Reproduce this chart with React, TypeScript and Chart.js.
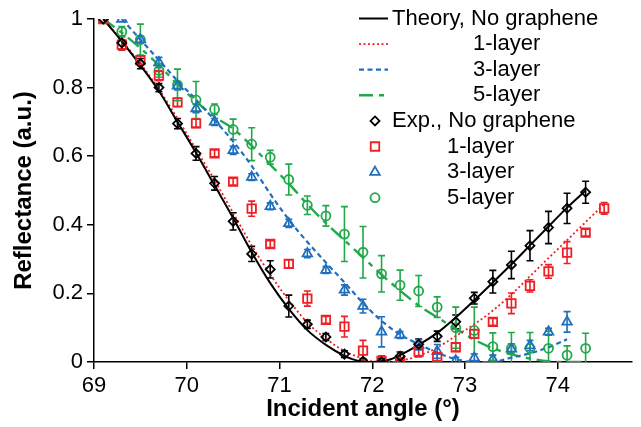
import React, { useEffect, useRef } from 'react';
import { Chart, registerables } from 'chart.js';
Chart.register(...registerables);

const FONT = "'Liberation Sans', Arial, sans-serif";

const xTicks = [69, 70, 71, 72, 73, 74];

// Theory curves
const thNoX = [69.1, 69.3, 69.5, 69.7, 69.9, 70.1, 70.3, 70.5, 70.7, 70.9, 71.1, 71.3, 71.5, 71.7, 71.8, 71.9, 72.0, 72.1, 72.2, 72.3, 72.5, 72.7, 72.9, 73.1, 73.3, 73.5, 73.7, 73.9, 74.1, 74.3];
const thNoY = [1.0, 0.935, 0.865, 0.79, 0.70, 0.61, 0.515, 0.42, 0.32, 0.23, 0.155, 0.093, 0.05, 0.018, 0.007, 0.001, 0.0, 0.002, 0.008, 0.02, 0.05, 0.085, 0.13, 0.18, 0.232, 0.285, 0.34, 0.395, 0.45, 0.5];

const th1X = [69.1, 69.3, 69.5, 69.7, 69.9, 70.1, 70.3, 70.5, 70.7, 70.9, 71.1, 71.3, 71.5, 71.7, 71.9, 72.0, 72.1, 72.2, 72.3, 72.5, 72.7, 72.9, 73.1, 73.3, 73.5, 73.7, 73.9, 74.1, 74.3, 74.5];
const th1Y = [1.0, 0.937, 0.87, 0.795, 0.71, 0.62, 0.53, 0.435, 0.34, 0.255, 0.18, 0.115, 0.068, 0.032, 0.01, 0.002, 0.0, 0.0, 0.003, 0.018, 0.042, 0.076, 0.11, 0.15, 0.197, 0.25, 0.303, 0.355, 0.408, 0.46];

const th3X = [69.3, 69.5, 69.7, 69.9, 70.1, 70.3, 70.5, 70.7, 70.9, 71.1, 71.3, 71.5, 71.7, 71.9, 72.1, 72.3, 72.5, 72.7, 72.9, 73.1, 73.3, 73.5, 73.7, 73.9, 74.1];
const th3Y = [1.0, 0.94, 0.88, 0.82, 0.765, 0.705, 0.643, 0.572, 0.49, 0.415, 0.35, 0.29, 0.232, 0.172, 0.12, 0.08, 0.052, 0.027, 0.008, 0.0, 0.0, 0.013, 0.025, 0.043, 0.066];

const th5X = [69.1, 69.3, 69.5, 69.7, 69.9, 70.1, 70.3, 70.5, 70.7, 70.9, 71.1, 71.3, 71.5, 71.7, 71.9, 72.1, 72.3, 72.5, 72.7, 72.9, 73.1, 73.3, 73.5, 73.7, 73.9, 74.1, 74.3];
const th5Y = [1.0, 0.96, 0.915, 0.865, 0.81, 0.76, 0.715, 0.68, 0.63, 0.575, 0.52, 0.46, 0.405, 0.355, 0.305, 0.255, 0.208, 0.165, 0.13, 0.097, 0.065, 0.04, 0.022, 0.01, 0.002, 0.0, 0.0];

// Experimental data
const exNoX = [69.1, 69.3, 69.5, 69.7, 69.9, 70.1, 70.3, 70.5, 70.7, 70.9, 71.1, 71.3, 71.5, 71.7, 71.9, 72.1, 72.3, 72.5, 72.7, 72.9, 73.1, 73.3, 73.5, 73.7, 73.9, 74.1, 74.3];
const exNoY = [1.0, 0.93, 0.87, 0.80, 0.695, 0.608, 0.521, 0.41, 0.315, 0.27, 0.163, 0.11, 0.073, 0.023, 0.002, 0.0, 0.017, 0.052, 0.075, 0.117, 0.186, 0.234, 0.283, 0.339, 0.392, 0.448, 0.495];
const exNoE = [0.0, 0.02, 0.015, 0.012, 0.015, 0.02, 0.02, 0.025, 0.022, 0.025, 0.032, 0.012, 0.01, 0.01, 0.008, 0.01, 0.012, 0.015, 0.015, 0.02, 0.017, 0.033, 0.04, 0.044, 0.047, 0.044, 0.032];

const ex1X = [69.1, 69.3, 69.5, 69.7, 69.9, 70.1, 70.3, 70.5, 70.7, 70.9, 71.1, 71.3, 71.5, 71.7, 71.9, 72.1, 72.3, 72.5, 72.7, 72.9, 73.1, 73.3, 73.5, 73.7, 73.9, 74.1, 74.3, 74.5];
const ex1Y = [1.0, 0.925, 0.88, 0.835, 0.757, 0.696, 0.608, 0.526, 0.447, 0.344, 0.286, 0.185, 0.123, 0.103, 0.033, 0.003, 0.0, 0.03, 0.014, 0.043, 0.082, 0.117, 0.171, 0.222, 0.264, 0.319, 0.377, 0.448];
const ex1E = [0.0, 0.015, 0.012, 0.015, 0.012, 0.012, 0.01, 0.01, 0.022, 0.01, 0.012, 0.022, 0.01, 0.03, 0.03, 0.015, 0.008, 0.015, 0.01, 0.012, 0.012, 0.01, 0.03, 0.018, 0.02, 0.032, 0.01, 0.017];

const ex3X = [69.3, 69.5, 69.7, 69.9, 70.1, 70.3, 70.5, 70.7, 70.9, 71.1, 71.3, 71.5, 71.7, 71.9, 72.1, 72.3, 72.5, 72.7, 72.9, 73.1, 73.3, 73.5, 73.7, 73.9, 74.1];
const ex3Y = [1.0, 0.94, 0.873, 0.805, 0.739, 0.70, 0.617, 0.539, 0.454, 0.404, 0.316, 0.268, 0.21, 0.163, 0.088, 0.079, 0.05, 0.031, 0.004, 0.012, 0.008, 0.038, 0.048, 0.088, 0.117];
const ex3E = [0.0, 0.01, 0.015, 0.012, 0.012, 0.01, 0.012, 0.01, 0.01, 0.012, 0.012, 0.01, 0.015, 0.02, 0.044, 0.01, 0.015, 0.02, 0.01, 0.012, 0.012, 0.015, 0.015, 0.01, 0.03];

const ex5X = [69.1, 69.3, 69.5, 69.7, 69.9, 70.1, 70.3, 70.5, 70.7, 70.9, 71.1, 71.3, 71.5, 71.7, 71.9, 72.1, 72.3, 72.5, 72.7, 72.9, 73.1, 73.3, 73.5, 73.7, 73.9, 74.1, 74.3];
const ex5Y = [1.0, 0.963, 0.94, 0.85, 0.808, 0.764, 0.737, 0.678, 0.635, 0.597, 0.532, 0.457, 0.426, 0.373, 0.32, 0.257, 0.224, 0.207, 0.16, 0.10, 0.092, 0.045, 0.04, 0.04, 0.04, 0.02, 0.04];
const ex5E = [0.0, 0.015, 0.045, 0.02, 0.046, 0.054, 0.015, 0.03, 0.048, 0.02, 0.045, 0.027, 0.03, 0.08, 0.075, 0.053, 0.044, 0.045, 0.03, 0.06, 0.068, 0.04, 0.046, 0.046, 0.05, 0.027, 0.044];

const legendLabels = ['Theory, No graphene', '1-layer', '3-layer', '5-layer', 'Exp., No graphene', '1-layer', '3-layer', '5-layer'];

const BLACK = '#000000';
const RED = '#ee2026';
const BLUE = '#1f6fbf';
const GREEN = '#21a84a';

const zip = (xs: number[], ys: number[]) => xs.map((x, i) => ({ x, y: ys[i] }));

function drawMarker(ctx: CanvasRenderingContext2D, style: string, x: number, y: number, r: number) {
  ctx.beginPath();
  if (style === 'rectRot') {
    ctx.moveTo(x, y - r); ctx.lineTo(x + r, y); ctx.lineTo(x, y + r); ctx.lineTo(x - r, y); ctx.closePath();
  } else if (style === 'rect') {
    const s = r * Math.SQRT1_2;
    ctx.rect(x - s, y - s, 2 * s, 2 * s);
  } else if (style === 'triangle') {
    ctx.moveTo(x, y - r);
    ctx.lineTo(x + r * 0.866, y + r * 0.5);
    ctx.lineTo(x - r * 0.866, y + r * 0.5);
    ctx.closePath();
  } else {
    ctx.arc(x, y, r, 0, Math.PI * 2);
  }
  ctx.stroke();
}

export default function App() {
  const ref = useRef<HTMLCanvasElement | null>(null);

  useEffect(() => {
    if (!ref.current) return;
    const expSets = [
      { xs: exNoX, ys: exNoY, es: exNoE, color: BLACK },
      { xs: ex1X, ys: ex1Y, es: ex1E, color: RED },
      { xs: ex3X, ys: ex3Y, es: ex3E, color: BLUE },
      { xs: ex5X, ys: ex5Y, es: ex5E, color: GREEN },
    ];

    const errorBars = {
      id: 'errorBars',
      beforeDatasetsDraw(chart: any) {
        const { ctx, chartArea } = chart;
        const xs = chart.scales.x;
        const ys = chart.scales.y;
        ctx.save();
        ctx.beginPath();
        ctx.rect(chartArea.left - 10, chartArea.top - 10, chartArea.right - chartArea.left + 20, chartArea.bottom - chartArea.top + 10);
        ctx.clip();
        ctx.lineWidth = 1.6;
        expSets.forEach((s) => {
          ctx.strokeStyle = s.color;
          s.xs.forEach((xv, i) => {
            const e = s.es[i];
            if (!e) return;
            const px = xs.getPixelForValue(xv);
            const top = ys.getPixelForValue(s.ys[i] + e);
            const bot = ys.getPixelForValue(s.ys[i] - e);
            ctx.beginPath();
            ctx.moveTo(px, top); ctx.lineTo(px, bot);
            ctx.moveTo(px - 3.5, top); ctx.lineTo(px + 3.5, top);
            ctx.moveTo(px - 3.5, bot); ctx.lineTo(px + 3.5, bot);
            ctx.stroke();
          });
        });
        ctx.restore();
      },
    };

    const legend = {
      id: 'customLegend',
      afterDraw(chart: any) {
        const ctx = chart.ctx as CanvasRenderingContext2D;
        ctx.save();
        ctx.font = `22px ${FONT}`;
        ctx.textBaseline = 'middle';
        ctx.textAlign = 'left';
        const rowY = (i: number) => 18.5 + i * 25.6;
        const lineStyles = [
          { c: BLACK, d: [] as number[], w: 2 },
          { c: RED, d: [2, 2.5], w: 1.8 },
          { c: BLUE, d: [5, 3.5], w: 2.2 },
          { c: GREEN, d: [14, 6, 5, 100], w: 2.4 },
        ];
        const markers = [
          { c: BLACK, s: 'rectRot', r: 4.5 },
          { c: RED, s: 'rect', r: 6 },
          { c: BLUE, s: 'triangle', r: 5.5 },
          { c: GREEN, s: 'circle', r: 4.5 },
        ];
        const textX = [392, 473, 473, 473, 392, 447, 447, 447];
        legendLabels.forEach((label, i) => {
          const y = rowY(i);
          if (i < 4) {
            const ls = lineStyles[i];
            ctx.strokeStyle = ls.c;
            ctx.lineWidth = ls.w;
            ctx.setLineDash(ls.d);
            ctx.beginPath();
            ctx.moveTo(359, y);
            ctx.lineTo(388, y);
            ctx.stroke();
            ctx.setLineDash([]);
          } else {
            const m = markers[i - 4];
            ctx.strokeStyle = m.c;
            ctx.lineWidth = 1.8;
            drawMarker(ctx, m.s, 375, y, m.r);
          }
          ctx.fillStyle = '#000';
          ctx.fillText(label, textX[i], y);
        });
        ctx.restore();
      },
    };

    const lineDs = (xs: number[], ys: number[], color: string, dash: number[], w: number) => ({
      type: 'scatter' as const,
      data: zip(xs, ys),
      showLine: true,
      borderColor: color,
      borderWidth: w,
      borderDash: dash,
      pointRadius: 0,
      fill: false,
      cubicInterpolationMode: 'monotone' as const,
      tension: 0.4,
      order: 2,
    });
    const ptDs = (xs: number[], ys: number[], color: string, style: string, r: number) => ({
      type: 'scatter' as const,
      data: zip(xs, ys),
      showLine: false,
      borderColor: color,
      backgroundColor: 'rgba(0,0,0,0)',
      pointStyle: style,
      pointRadius: r,
      pointBorderWidth: 1.8,
      order: 1,
    });

    const chart = new Chart(ref.current, {
      type: 'scatter',
      data: {
        datasets: [
          lineDs(thNoX, thNoY, BLACK, [], 2),
          lineDs(th1X, th1Y, RED, [2, 2.5], 1.8),
          lineDs(th3X, th3Y, BLUE, [5, 3.5], 2.2),
          lineDs(th5X, th5Y, GREEN, [14, 6, 5, 6], 2.4),
          ptDs(exNoX, exNoY, BLACK, 'rectRot', 4.5),
          ptDs(ex1X, ex1Y, RED, 'rect', 6),
          ptDs(ex3X, ex3Y, BLUE, 'triangle', 5.5),
          ptDs(ex5X, ex5Y, GREEN, 'circle', 4.5),
        ] as any,
      },
      options: {
        animation: false,
        responsive: false,
        maintainAspectRatio: false,
        layout: { padding: { top: 19, right: 9, left: 0, bottom: 0 } },
        plugins: { legend: { display: false }, tooltip: { enabled: false }, title: { display: false } },
        scales: {
          x: {
            type: 'linear',
            min: 69,
            max: 74.8,
            afterBuildTicks: (s: any) => { s.ticks = xTicks.map((v) => ({ value: v })); },
            afterFit: (s: any) => { s.height = 65; },
            grid: { drawOnChartArea: false, drawTicks: true, tickLength: 7, color: '#000', lineWidth: 1.5 },
            border: { display: true, color: '#000', width: 1.5 },
            ticks: { color: '#000', font: { family: FONT, size: 22 }, padding: 4, maxRotation: 0 },
            title: { display: true, text: 'Incident angle (°)', color: '#000', font: { family: FONT, size: 24, weight: 'bold' }, padding: { top: 0, bottom: 3 } },
          },
          y: {
            type: 'linear',
            min: 0,
            max: 1,
            afterFit: (s: any) => { s.width = 94; },
            grid: { drawOnChartArea: false, drawTicks: true, tickLength: 7, color: '#000', lineWidth: 1.5 },
            border: { display: true, color: '#000', width: 1.5 },
            ticks: { stepSize: 0.2, color: '#000', font: { family: FONT, size: 22 }, padding: 4, callback: (v: any) => String(Math.round(Number(v) * 10) / 10) },
            title: { display: true, text: 'Reflectance (a.u.)', color: '#000', font: { family: FONT, size: 24, weight: 'bold' }, padding: { top: 10, bottom: 0 } },
          },
        },
      } as any,
      plugins: [errorBars, legend],
    });
    return () => chart.destroy();
  }, []);

  return (
    <div style={{ position: 'fixed', left: 0, top: 0, width: 641, height: 427, background: '#fff' }}>
      <canvas ref={ref} width={641} height={427} style={{ width: 641, height: 427, display: 'block' }} />
    </div>
  );
}
